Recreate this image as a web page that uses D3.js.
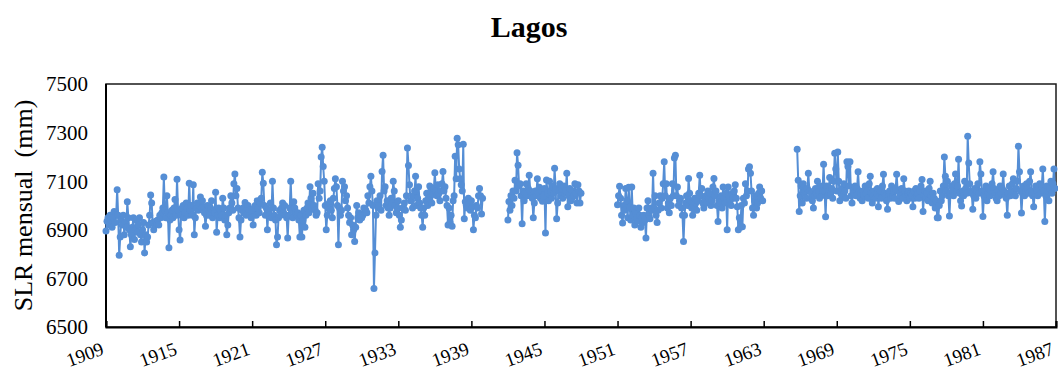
<!DOCTYPE html>
<html>
<head>
<meta charset="utf-8">
<script src="https://cdn.jsdelivr.net/npm/d3@7"></script>
<style>
  html, body { margin: 0; padding: 0; background: #fff; }
  svg { display: block; font-family: "Liberation Serif", "Times New Roman", serif; }
</style>
</head>
<body>
<div id="chart"></div>
<script>
"use strict";

var title = "Lagos";
var yTitle = "SLR mensual  (mm)";
var yTicks = [6500, 6700, 6900, 7100, 7300, 7500];
var xTicks = [1909, 1915, 1921, 1927, 1933, 1939, 1945, 1951, 1957, 1963, 1969, 1975, 1981, 1987];

// monthly values, one line per year; each block starts at [year, month]
var startA = [1909, 0];
var slrA = [
  6895, 6935, 6950, 6920, 6960, 6940, 6910, 6950, 6975, 6930, 6960, 7065,
  6960, 6795, 6870, 6940, 6920, 6960, 6880, 6930, 6910, 7015, 6950, 6900,
  6830, 6880, 6910, 6950, 6860, 6900, 6940, 6890, 6920, 6950, 6880, 6850,
  6900, 6930, 6805, 6880, 6850, 6870, 6920, 6960, 7043, 7010, 6930, 6900,
  6920, 6935, 6925, 6940, 6920, 6960, 6950, 6970, 6990, 7117, 6980, 6950,
  7040, 6970, 6826, 6940, 6960, 6980, 6950, 6990, 7025, 6960, 7108, 6980,
  6900, 6858, 6960, 6990, 7000, 6950, 6970, 7010, 6990, 6960, 7092, 6980,
  7000, 6960, 7085, 6880, 6950, 6990, 7010, 6980, 7000, 7035, 6990, 7020,
  6995, 6970, 6915, 6960, 7000, 6980, 6960, 6990, 7020, 6950, 6980, 6970,
  7055, 6890, 6960, 6990, 6950, 6980, 6960, 7030, 6990, 6940, 6960, 6880,
  6920, 6970, 6990, 7040, 7010, 6980, 7090, 7130, 7040, 7070, 6990, 6950,
  6870, 6940, 6980, 6990, 6970, 7012, 6960, 6990, 7000, 6980, 6960, 6950,
  6980, 6920, 6990, 7000, 6960, 7020, 6990, 6970, 7010, 7030, 7137, 7092,
  7000, 6960, 6990, 6900, 6980, 6960, 7010, 6950, 7100, 6990, 6960, 6940,
  6838, 6870, 6950, 6980, 6960, 6990, 7010, 6970, 7000, 6960, 6950, 6866,
  6960, 6990, 7100, 6980, 6950, 7015, 6990, 6970, 6960, 6970, 6940, 6870,
  6960, 6870, 6940, 6980, 6910, 6960, 6990, 7010, 6970, 7077, 7030, 6990,
  7050, 7000, 6980, 6960, 6970, 7090, 7030, 7060, 7200, 7240, 7160, 7100,
  7000, 6900, 6960, 6990, 7010, 7020, 6980, 6950, 7030, 7070, 7110, 7077,
  7000, 6838, 6990, 6960, 6980, 7100, 7060, 7077, 7020, 7040, 6990, 6960,
  6930, 6950, 6880, 6920, 6900, 6852, 6910, 7000, 6950, 6970, 6940, 6960,
  6950, 6960, 6990, 6970, 6980, 6970, 7040, 7010, 7077, 7120, 7060, 7000,
  6658, 6805, 6960, 7020, 6990, 7000, 7040, 6980, 7140, 7207, 7060, 7077,
  7000, 7020, 6990, 6960, 6990, 7030, 7010, 7100, 7060, 7000, 6970, 6990,
  7020, 6960, 6910, 6940, 6990, 6990, 7010, 6980, 7040, 7237, 7165, 7085,
  7020, 7020, 6990, 7040, 7060, 7120, 7000, 7030, 7077, 7010, 6990, 6960,
  6910, 6990, 6960, 7020, 7050, 7000, 7030, 7080, 7060, 7010, 7045, 7070,
  7135, 7060, 7040, 7085, 7050, 7020, 7060, 7090, 7140, 7060, 7077, 7030,
  7000, 6920, 6990, 6930, 6960, 6915, 7020, 7040, 7203, 7110, 7277, 7250,
  7150, 7110, 7085, 7060, 7252, 6945, 7015, 7000, 6990, 7030, 7010, 6980,
  7020, 6995, 6900, 6960, 6950, 7000, 6990, 7040, 7070, 7040, 6965, 7030
];

var startB = [1942, 0];
var slrB = [
  6940, 7016, 6980, 7040, 7000, 7060, 7030, 7104, 7060, 7217, 7166, 7080,
  7090, 7040, 6925, 7060, 7020, 7050, 7090, 7040, 7070, 7125, 7060, 7040,
  7030, 6950, 7010, 7060, 7040, 7110, 7050, 7075, 7030, 7060, 7017, 7040,
  7070, 6887, 7105, 7050, 7020, 7100, 7060, 7030, 7080, 7050, 7153, 7070,
  6945, 7010, 7060, 7090, 7040, 7070, 7030, 7080, 7050, 7060, 7133, 6995,
  7040, 7070, 7020, 7030, 7060, 7040, 7090, 7050, 7010, 7085, 7060, 7010,
  7050
];

var startC = [1951, 0];
var slrC = [
  7003, 7040, 7079, 7030, 6960, 6928, 7000, 6980, 7070, 7020, 6950, 7075,
  6990, 6940, 7076, 6960, 6990, 6920, 6970, 6950, 6935, 6990, 6960, 6910,
  6950, 6930, 6960, 6940, 6866, 6990, 7020, 6960, 6945, 6990, 6980, 7133,
  6990, 7040, 6960, 6930, 6980, 7010, 7040, 6990, 7030, 7090, 7180, 7040,
  7090, 6990, 7010, 6970, 7030, 7000, 7090, 7040, 7195, 7207, 7040, 7076,
  7000, 7020, 7030, 6990, 6960, 6852, 6960, 7010, 7040, 7000, 7111, 7050,
  7020, 6990, 6960, 7000, 7030, 7010, 6980, 7020, 7050, 7125, 7040, 7070,
  7010, 6990, 7025, 7040, 7010, 7060, 7030, 7050, 7000, 7020, 7076, 7111,
  7040, 7060, 7000, 6934, 7020, 7010, 7040, 6990, 7076, 7030, 7010, 7050,
  6900, 7076, 7040, 7020, 7000, 7050, 7030, 7060, 7085, 7030, 6995, 6900,
  6950, 6910, 7000, 6913, 7030, 7010, 7090, 7040, 7060, 7150, 7159, 7133,
  7060, 6990, 6960, 7020, 7040, 6990, 7010, 7050, 7076, 7030, 7060, 7020
];

var startD = [1965, 9];
var slrD = [
  7231, 7104, 6975,
  7040, 7080, 7010, 7090, 7050, 7060, 7030, 7070, 7133, 7060, 7030, 7050,
  7020, 6990, 7040, 7070, 7050, 7100, 7060, 7030, 7080, 7040, 7060, 7170,
  7060, 6954, 7080, 7040, 7060, 7115, 7050, 7070, 7030, 7100, 7215, 7150,
  7060, 7220, 7100, 7020, 7050, 7070, 7040, 7090, 7060, 7030, 7180, 7160,
  7080, 7180, 7040, 7010, 7060, 7050, 7080, 7040, 7070, 7139, 7060, 7030,
  7050, 7020, 7060, 7040, 7080, 7050, 7060, 7030, 7090, 7120, 7050, 7010,
  7040, 7060, 7030, 7050, 7070, 6995, 7040, 7060, 7030, 7080, 7129, 7050,
  7040, 7020, 6985, 7050, 7060, 7030, 7080, 7040, 7060, 7030, 7070, 7129,
  7060, 7016, 7050, 7040, 7070, 7030, 7110, 7060, 7040, 7020, 7050, 7060,
  7030, 7050, 7040, 6995, 7060, 7030, 7070, 7040, 7050, 7030, 7060, 7080,
  7107, 6975, 7040, 7060, 7030, 7050, 7020, 7070, 7100, 7040, 7010, 7050,
  7030, 6990, 7020, 6950, 6950, 7000, 7060, 7020, 7040, 7080, 7200, 7120,
  7060, 7100, 7040, 6957, 7050, 7080, 7060, 7040, 7090, 7130, 7060, 7080,
  7190, 7050, 7020, 6998, 7060, 7040, 7100, 7070, 7050, 7285, 7175, 7090,
  7060, 7050, 6985, 7040, 7070, 7030, 7060, 7090, 7050, 7180, 7130, 7060,
  6955, 7040, 7060, 7080, 7020, 7050, 7070, 7040, 7060, 7090, 7139, 7070,
  7050, 7030, 7020, 7060, 7040, 7080, 7050, 7070, 7130, 7060, 7040, 7030,
  6960, 7050, 7080, 7040, 7060, 7090, 7110, 7060, 7040, 7070, 7100, 7244,
  7139, 7060, 6969, 7050, 7080, 7040, 7060, 7090, 7070, 7050, 7100, 7139,
  7060, 7040, 6995, 7050, 7080, 7060, 7040, 7070, 7090, 7050, 7080, 7150,
  7060, 6934, 7040, 7080, 7060, 7020, 7070, 7100, 7050, 7090, 7150, 7070
];

function toPoints(start, values) {
  return values.map(function(v, i) {
    return { t: start[0] + (start[1] + i) / 12, v: v };
  });
}

var segments = [
  toPoints(startA, slrA),
  toPoints(startB, slrB),
  toPoints(startC, slrC),
  toPoints(startD, slrD)
];

var width = 1058,
  height = 373,
  plotLeft = 106,
  plotRight = 1056,
  plotTop = 84,
  plotBottom = 327,
  lineColor = "#558ed5";

var svg = d3.select("#chart").append("svg")
  .attr("width", width)
  .attr("height", height);

var x = d3.scaleLinear().domain([1909, 1987]).range([plotLeft, plotRight]);
var y = d3.scaleLinear().domain([6500, 7500]).range([plotBottom, plotTop]);

svg.append("text")
  .attr("x", width / 2)
  .attr("y", 37)
  .attr("text-anchor", "middle")
  .attr("font-size", 30)
  .attr("font-weight", "bold")
  .text(title);

// plot frame
svg.append("rect")
  .attr("x", plotLeft)
  .attr("y", plotTop)
  .attr("width", plotRight - plotLeft)
  .attr("height", plotBottom - plotTop)
  .attr("fill", "none")
  .attr("stroke", "#1a1a1a")
  .attr("stroke-width", 1.5);

// y axis labels
svg.append("g")
  .selectAll("text")
  .data(yTicks)
  .enter().append("text")
  .attr("x", plotLeft - 18)
  .attr("y", function(d) { return y(d); })
  .attr("dy", "0.35em")
  .attr("text-anchor", "end")
  .attr("font-size", 21)
  .text(function(d) { return d; });

svg.append("text")
  .attr("transform", "translate(32," + ((plotTop + plotBottom) / 2) + ") rotate(-90)")
  .attr("text-anchor", "middle")
  .attr("font-size", 26)
  .style("white-space", "pre")
  .text(yTitle);

// x axis: ticks point inward
var xAxis = svg.append("g")
  .attr("transform", "translate(0," + plotBottom + ")")
  .call(d3.axisBottom(x).tickValues(xTicks).tickSize(-6).tickFormat(""));
xAxis.select(".domain").attr("stroke", "#000").attr("stroke-width", 2);
xAxis.selectAll(".tick line").attr("stroke", "#000").attr("stroke-width", 1.5);

svg.append("line")
  .attr("x1", plotLeft).attr("x2", plotLeft)
  .attr("y1", plotTop).attr("y2", plotBottom)
  .attr("stroke", "#000")
  .attr("stroke-width", 2);

svg.append("g")
  .selectAll("text")
  .data(xTicks)
  .enter().append("text")
  .attr("transform", function(d) { return "translate(" + (x(d) - 1) + ",354) rotate(-20)"; })
  .attr("text-anchor", "end")
  .attr("font-size", 19)
  .text(function(d) { return d; });

// series
var line = d3.line()
  .x(function(d) { return x(d.t); })
  .y(function(d) { return y(d.v); });

var series = svg.append("g");

series.selectAll("path")
  .data(segments)
  .enter().append("path")
  .attr("d", line)
  .attr("fill", "none")
  .attr("stroke", lineColor)
  .attr("stroke-width", 2)
  .attr("stroke-linejoin", "round");

series.selectAll("circle")
  .data(d3.merge(segments))
  .enter().append("circle")
  .attr("cx", function(d) { return x(d.t); })
  .attr("cy", function(d) { return y(d.v); })
  .attr("r", 3.5)
  .attr("fill", lineColor);
</script>
</body>
</html>
